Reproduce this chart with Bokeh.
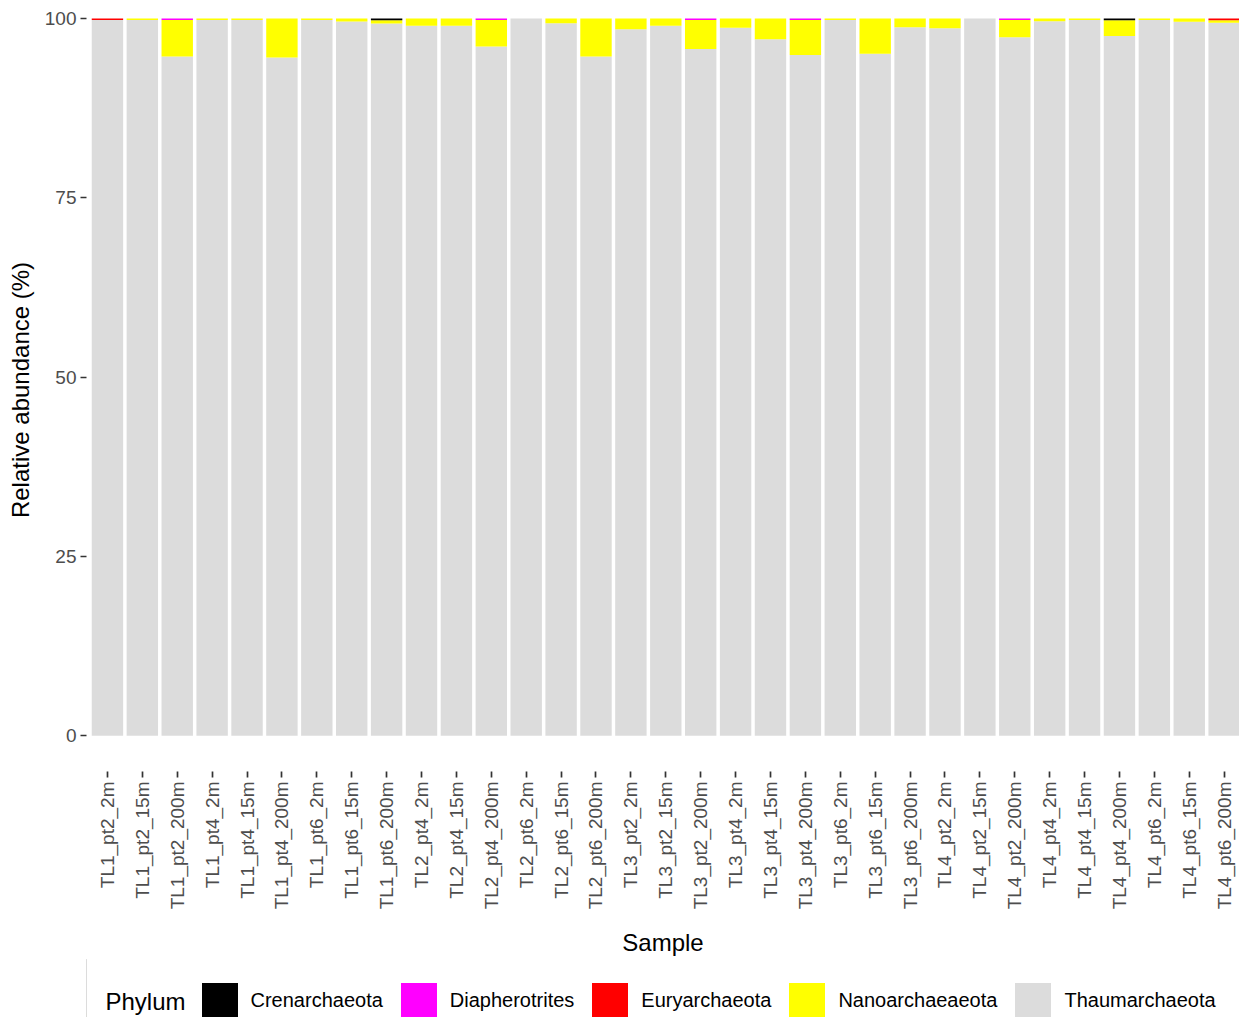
import math
from bokeh.plotting import figure
from bokeh.layouts import column
from bokeh.models import ColumnDataSource, FixedTicker, Range1d, Legend, LegendItem, Label
from bokeh.embed import file_html
from bokeh.resources import INLINE

samples = [
    "TL1_pt2_2m", "TL1_pt2_15m", "TL1_pt2_200m", "TL1_pt4_2m", "TL1_pt4_15m", "TL1_pt4_200m",
    "TL1_pt6_2m", "TL1_pt6_15m", "TL1_pt6_200m",
    "TL2_pt4_2m", "TL2_pt4_15m", "TL2_pt4_200m", "TL2_pt6_2m", "TL2_pt6_15m", "TL2_pt6_200m",
    "TL3_pt2_2m", "TL3_pt2_15m", "TL3_pt2_200m", "TL3_pt4_2m", "TL3_pt4_15m", "TL3_pt4_200m",
    "TL3_pt6_2m", "TL3_pt6_15m", "TL3_pt6_200m",
    "TL4_pt2_2m", "TL4_pt2_15m", "TL4_pt2_200m", "TL4_pt4_2m", "TL4_pt4_15m", "TL4_pt4_200m",
    "TL4_pt6_2m", "TL4_pt6_15m", "TL4_pt6_200m",
]

crenarchaeota = [0, 0, 0, 0, 0, 0, 0, 0, 0.25,
                 0, 0, 0, 0, 0, 0,
                 0, 0, 0, 0, 0, 0, 0, 0, 0,
                 0, 0, 0, 0, 0, 0.25, 0, 0, 0]
diapherotrites = [0, 0, 0.2, 0, 0, 0, 0, 0, 0,
                  0, 0, 0.2, 0, 0, 0,
                  0, 0, 0.2, 0, 0, 0.2, 0, 0, 0,
                  0, 0, 0.2, 0, 0, 0, 0, 0, 0]
euryarchaeota = [0.2, 0, 0, 0, 0, 0, 0, 0, 0,
                 0, 0, 0, 0, 0, 0,
                 0, 0, 0, 0, 0, 0, 0, 0, 0,
                 0, 0, 0, 0, 0, 0, 0, 0, 0.25]
nanoarchaeaeota = [0, 0.2, 5.1, 0.2, 0.2, 5.45, 0.2, 0.4, 0.45,
                   1.0, 1.0, 3.7, 0, 0.65, 5.3,
                   1.5, 1.0, 4.05, 1.3, 2.9, 4.9, 0.2, 4.9, 1.2,
                   1.35, 0, 2.4, 0.37, 0.2, 2.2, 0.2, 0.45, 0.35]
thaumarchaeota = [100 - a - b - c - d for a, b, c, d in
                  zip(crenarchaeota, diapherotrites, euryarchaeota, nanoarchaeaeota)]

phyla = ["Crenarchaeota", "Diapherotrites", "Euryarchaeota", "Nanoarchaeaeota", "Thaumarchaeota"]
colors = {"Crenarchaeota": "#000000", "Diapherotrites": "#FF00FF", "Euryarchaeota": "#FF0000",
          "Nanoarchaeaeota": "#FFFF00", "Thaumarchaeota": "#DCDCDC"}

positions = list(range(1, len(samples) + 1))
source = ColumnDataSource(dict(
    x=positions,
    Crenarchaeota=crenarchaeota,
    Diapherotrites=diapherotrites,
    Euryarchaeota=euryarchaeota,
    Nanoarchaeaeota=nanoarchaeaeota,
    Thaumarchaeota=thaumarchaeota,
))

FONT = "Liberation Sans"

p = figure(frame_width=1153, frame_height=763,
           x_range=Range1d(0.4, 33.44), y_range=Range1d(-5, 101.4),
           output_backend="svg", toolbar_location=None,
           min_border_left=86, min_border_top=8, min_border_right=0, min_border_bottom=0)

stack_order = ["Thaumarchaeota", "Nanoarchaeaeota", "Euryarchaeota", "Diapherotrites", "Crenarchaeota"]
p.vbar_stack(stack_order, x="x", width=0.9, source=source,
             color=[colors[s] for s in stack_order], line_color=None)

p.xgrid.visible = False
p.ygrid.visible = False
p.outline_line_color = None
p.background_fill_color = "white"
p.border_fill_color = "white"

xa = p.xaxis[0]
xa.ticker = FixedTicker(ticks=positions)
xa.major_label_overrides = {i: s for i, s in zip(positions, samples)}
xa.major_label_orientation = math.pi / 2
xa.axis_label = "Sample"

ya = p.yaxis[0]
ya.ticker = FixedTicker(ticks=[0, 25, 50, 75, 100])
ya.axis_label = "Relative abundance (%)"

for ax in (xa, ya):
    ax.axis_line_color = None
    ax.minor_tick_line_color = None
    ax.major_tick_line_color = "#333333"
    ax.major_tick_line_width = 1.7
    ax.major_tick_out = 6
    ax.major_tick_in = 0
    ax.major_label_text_font = FONT
    ax.major_label_text_font_size = "19px"
    ax.major_label_text_color = "#4D4D4D"
    ax.major_label_standoff = 4
    ax.axis_label_text_font = FONT
    ax.axis_label_text_font_size = "24px"
    ax.axis_label_text_font_style = "normal"
    ax.axis_label_text_color = "#000000"
xa.axis_label_standoff = 17
ya.axis_label_standoff = 8

# legend strip below the chart (its frame lines up with the chart's frame)
LEG_H = 59
X0 = 1000  # strip's own x-origin, far from the proxy bars' positions
leg = figure(frame_width=1153, frame_height=LEG_H,
             x_range=Range1d(X0, X0 + 1153), y_range=Range1d(0, LEG_H),
             x_axis_type=None, y_axis_type=None,
             output_backend="svg", toolbar_location=None,
             min_border_left=86, min_border_right=0, min_border_top=0, min_border_bottom=0)
leg.xgrid.visible = False
leg.ygrid.visible = False
leg.outline_line_color = None
leg.background_fill_color = "white"
leg.border_fill_color = "white"
# legend proxies: same data, but their bars fall outside this strip's visible range
leg_renderers = {ph: leg.vbar(x="x", top=ph, width=0.9, source=source,
                              color=colors[ph], line_color=None) for ph in phyla}

legend = Legend(
    items=[LegendItem(label=ph, renderers=[leg_renderers[ph]]) for ph in phyla],
    orientation="horizontal", location=(110.5, -4.5),
    label_text_font=FONT, label_text_font_size="20px", label_text_color="#000000",
    label_standoff=9, spacing=13, glyph_width=45, glyph_height=45,
    padding=0, margin=0, border_line_color=None, background_fill_alpha=0,
)
leg.add_layout(legend, "center")
leg.add_layout(Label(x=X0 + 19, y=17, text="Phylum",
                     text_font=FONT, text_font_size="24px", text_color="#000000",
                     text_align="left", text_baseline="middle"))

layout = column(p, leg, spacing=0)
open("out.html", "w").write(file_html(layout, INLINE))
